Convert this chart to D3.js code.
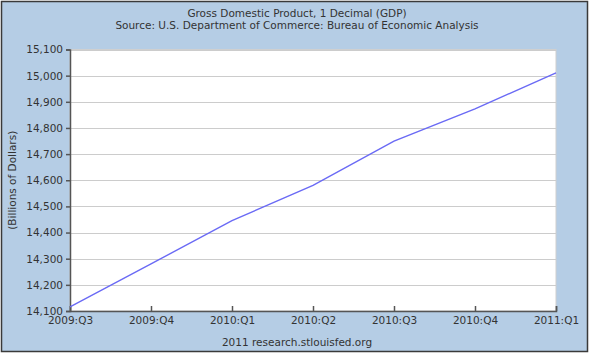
<!DOCTYPE html>
<html><head><meta charset="utf-8">
<script src="https://cdn.jsdelivr.net/npm/d3@7"></script>
<style>
html,body{margin:0;padding:0;background:#fff;}
svg{display:block;font-family:"DejaVu Sans",Verdana,sans-serif;}
</style></head><body>
<svg id="c" width="590" height="355"></svg>
<script>
const quarters = ["2009:Q3","2009:Q4","2010:Q1","2010:Q2","2010:Q3","2010:Q4","2011:Q1"];
const gdp = [14116, 14280, 14446, 14580, 14750, 14873, 15011];
const yTicks = [14100,14200,14300,14400,14500,14600,14700,14800,14900,15000,15100];
const titleLines = ["Gross Domestic Product, 1 Decimal (GDP)","Source: U.S. Department of Commerce: Bureau of Economic Analysis"];
const yLabel = "(Billions of Dollars)";
const footer = "2011 research.stlouisfed.org";

const svg = d3.select("#c");
const W=590,H=355;
const m={left:70,right:556,top:49.5,bottom:311};

svg.append("rect").attr("x",1.5).attr("y",1.5).attr("width",586).attr("height",350)
  .attr("fill","#b5cde5").attr("stroke","#3a3a3a").attr("stroke-width",1.5);

const x = d3.scalePoint().domain(quarters).range([m.left,m.right]);
const y = d3.scaleLinear().domain([14100,15100]).range([m.bottom,m.top]);

svg.append("rect").attr("x",m.left).attr("y",m.top).attr("width",m.right-m.left).attr("height",m.bottom-m.top)
  .attr("fill","#fff").attr("stroke","#cfcfcf");

// gridlines
svg.append("g").selectAll("line").data(yTicks.slice(1)).join("line")
  .attr("x1",m.left).attr("x2",m.right).attr("y1",d=>Math.round(y(d))+0.5).attr("y2",d=>Math.round(y(d))+0.5)
  .attr("stroke","#cccccc").attr("stroke-width",1.2);

// y axis
const ya = svg.append("g").attr("transform",`translate(${m.left},0)`)
  .call(d3.axisLeft(y).tickValues(yTicks).tickFormat(d3.format(",")).tickSize(4).tickPadding(3));
ya.select(".domain").attr("stroke","#555").attr("stroke-width",1.5);
ya.selectAll(".tick line").attr("stroke","#555").attr("stroke-width",1.5);
ya.selectAll("text").attr("fill","#333").attr("font-size","10.5px").attr("font-family","\"DejaVu Sans\",sans-serif");

// x axis
const xa = svg.append("g").attr("transform",`translate(0,${m.bottom})`)
  .call(d3.axisBottom(x).tickSize(-5).tickPadding(4));
xa.select(".domain").attr("stroke","#555").attr("stroke-width",1.5);
xa.selectAll(".tick line").attr("stroke","#555").attr("stroke-width",1.5);
xa.selectAll("text").attr("fill","#333").attr("font-size","10.5px").attr("font-family","\"DejaVu Sans\",sans-serif").attr("dy","0.9em");

// line
svg.append("path").datum(gdp)
  .attr("d",d3.line().x((d,i)=>x(quarters[i])).y(d=>y(d)))
  .attr("fill","none").attr("stroke","#6a6af5").attr("stroke-width",1.4);

// titles
svg.append("g").selectAll("text").data(titleLines).join("text")
  .attr("x",297).attr("y",(d,i)=>17+i*12).attr("text-anchor","middle")
  .attr("font-size","10.5px").attr("fill","#333").text(d=>d);

svg.append("text").attr("transform",`translate(16,${(m.top+m.bottom)/2}) rotate(-90)`)
  .attr("text-anchor","middle").attr("font-size","10.5px").attr("fill","#333").text(yLabel);

svg.append("text").attr("x",297).attr("y",346).attr("text-anchor","middle")
  .attr("font-size","10.5px").attr("fill","#333").text(footer);
</script>
</body></html>
